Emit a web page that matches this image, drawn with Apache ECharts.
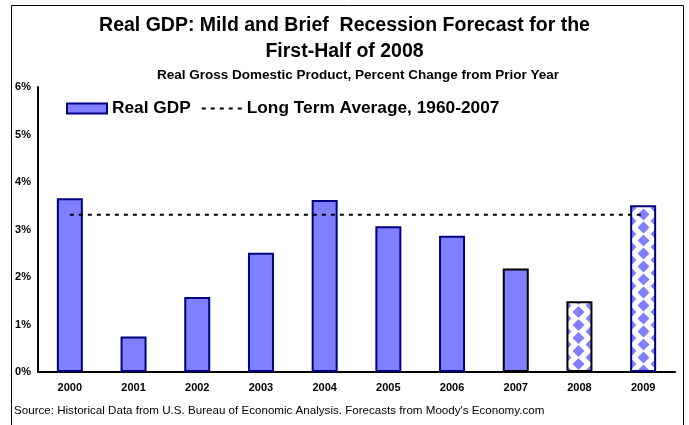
<!DOCTYPE html>
<html>
<head>
<meta charset="utf-8">
<script src="https://cdn.jsdelivr.net/npm/echarts@6/dist/echarts.min.js"></script>
<style>
  html, body { margin: 0; padding: 0; background: #fff; }
  #chart { width: 689px; height: 425px; }
</style>
</head>
<body>
<div id="chart"></div>
<script>
// Annual real GDP growth, % change from prior year
const years = ['2000', '2001', '2002', '2003', '2004', '2005', '2006', '2007', '2008', '2009'];
const gdpGrowth = [3.66, 0.75, 1.58, 2.51, 3.62, 3.07, 2.87, 2.18, 1.49, 3.51];
const longTermAverage = 3.31;          // 1960-2007
const forecastYears = ['2008', '2009'];
const blackOutlineYears = ['2007', '2008'];

const FILL = '#8080ff';
const NAVY = '#000080';

// Diamond tile used to fill the forecast bars
function diamondTile() {
  const w = 26, h = 13;
  const c = document.createElement('canvas');
  c.width = w; c.height = h;
  const g = c.getContext('2d');
  g.fillStyle = '#ffffff';
  g.fillRect(0, 0, w, h);
  g.fillStyle = FILL;
  const diamond = (cx, cy, rx, ry) => {
    g.beginPath();
    g.moveTo(cx, cy - ry);
    g.lineTo(cx + rx, cy);
    g.lineTo(cx, cy + ry);
    g.lineTo(cx - rx, cy);
    g.closePath();
    g.fill();
  };
  const rx = 6, ry = 6;
  diamond(6.5, 0, rx, ry);
  diamond(6.5, h, rx, ry);
  diamond(19.5, h / 2, rx, ry);
  diamond(32.5, 0, rx, ry);
  diamond(32.5, h, rx, ry);
  diamond(-6.5, h / 2, rx, ry);
  return c;
}
const pattern = { image: diamondTile(), repeat: 'repeat' };

const barData = years.map((y, i) => {
  const item = { value: gdpGrowth[i] };
  const style = {};
  if (forecastYears.includes(y)) style.color = pattern;
  if (blackOutlineYears.includes(y)) style.borderColor = '#000000';
  if (Object.keys(style).length) item.itemStyle = style;
  return item;
});
const avgData = years.map(() => longTermAverage);

const font = 'Arial, "Liberation Sans", sans-serif';

const chart = echarts.init(document.getElementById('chart'), null, { renderer: 'canvas' });
chart.setOption({
  backgroundColor: '#ffffff',
  animation: false,
  title: [
    {
      text: 'Real GDP: Mild and Brief  Recession Forecast for the\nFirst-Half of 2008',
      left: 'center', top: 8,
      textStyle: { fontFamily: font, fontWeight: 'bold', fontSize: 19.5, lineHeight: 26, color: '#000' }
    },
    {
      text: 'Real Gross Domestic Product, Percent Change from Prior Year',
      left: 157, top: 68, padding: 0,
      textStyle: { fontFamily: font, fontWeight: 'bold', fontSize: 13.5, color: '#000' }
    },
    {
      text: 'Source: Historical Data from U.S. Bureau of Economic Analysis. Forecasts from Moody\'s Economy.com',
      left: 14, top: 405, padding: 0,
      textStyle: { fontFamily: font, fontWeight: 'normal', fontSize: 11.6, color: '#000' }
    }
  ],
  legend: {
    left: 66, top: 100, padding: 0,
    itemWidth: 40, itemHeight: 10, itemGap: 10,
    textStyle: { fontFamily: font, fontWeight: 'bold', fontSize: 17.3, color: '#000' },
    data: [
      { name: 'Real GDP', icon: 'rect' },
      { name: 'Long Term Average, 1960-2007', itemStyle: { opacity: 0 } }
    ]
  },
  grid: { left: 38, right: 14, top: 87, bottom: 53 },
  xAxis: {
    type: 'category',
    data: years,
    axisLine: { lineStyle: { color: '#000', width: 2 } },
    axisTick: { show: false },
    axisLabel: { fontFamily: font, fontWeight: 'bold', fontSize: 11, color: '#000', margin: 10 }
  },
  yAxis: {
    type: 'value',
    min: 0, max: 6, interval: 1,
    axisLine: { show: true, lineStyle: { color: '#000', width: 2 } },
    axisTick: { show: false },
    splitLine: { show: false },
    axisLabel: { formatter: '{value}%', fontFamily: font, fontWeight: 'bold', fontSize: 11, color: '#000', margin: 7 }
  },
  series: [
    {
      name: 'Real GDP',
      type: 'bar',
      barWidth: 26,
      data: barData,
      itemStyle: { color: FILL, borderColor: NAVY, borderWidth: 2 }
    },
    {
      name: 'Long Term Average, 1960-2007',
      type: 'line',
      data: avgData,
      symbol: 'none',
      z: 3,
      lineStyle: { color: '#000', width: 2, type: [4, 5] },
      itemStyle: { color: '#000' }
    }
  ],
  graphic: [
    {
      type: 'rect',
      shape: { x: 11.5, y: 5.5, width: 672, height: 440 },
      style: { fill: null, stroke: '#000', lineWidth: 1 },
      silent: true
    }
  ]
});
</script>
</body>
</html>
